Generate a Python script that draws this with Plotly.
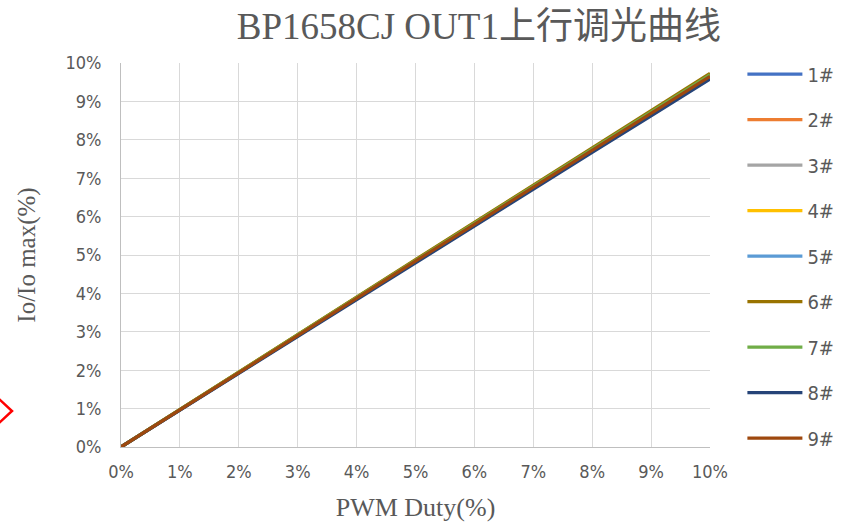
import plotly.graph_objects as go

duty = [0, 1, 2, 3, 4, 5, 6, 7, 8, 9, 10]
names = ["1#", "2#", "3#", "4#", "5#", "6#", "7#", "8#", "9#"]
s1 = [0, 0.97, 1.94, 2.90, 3.86, 4.82, 5.79, 6.75, 7.70, 8.66, 9.62]
s2 = [0, 0.97, 1.95, 2.91, 3.88, 4.84, 5.81, 6.77, 7.73, 8.69, 9.66]
s3 = [0, 0.98, 1.95, 2.92, 3.89, 4.85, 5.82, 6.79, 7.75, 8.71, 9.68]
s4 = [0, 0.98, 1.96, 2.93, 3.90, 4.87, 5.84, 6.80, 7.77, 8.73, 9.70]
s5 = [0, 0.97, 1.95, 2.92, 3.89, 4.85, 5.82, 6.78, 7.74, 8.70, 9.67]
s6 = [0, 0.98, 1.96, 2.94, 3.91, 4.88, 5.85, 6.82, 7.78, 8.75, 9.73]
s7 = [0, 0.98, 1.95, 2.92, 3.89, 4.86, 5.83, 6.79, 7.75, 8.72, 9.69]
s8 = [0, 0.96, 1.93, 2.89, 3.85, 4.80, 5.76, 6.72, 7.67, 8.62, 9.58]
s9 = [0, 0.97, 1.95, 2.91, 3.88, 4.84, 5.80, 6.76, 7.72, 8.68, 9.65]
series = [s1, s2, s3, s4, s5, s6, s7, s8, s9]
colors = ["#4472C4", "#ED7D31", "#A5A5A5", "#FFC000", "#5B9BD5",
          "#997300", "#70AD47", "#264478", "#9E480E"]
ticks = list(range(0, 11))
tick_text = [f"{t}%" for t in ticks]

fig = go.Figure()
for i, (n, s) in enumerate(zip(names, series)):
    fig.add_trace(go.Scatter(
        x=duty, y=s, mode="lines", name=n, legendgroup=n,
        line=dict(color=colors[i], width=3.2),
    ))

narrow = "DejaVu Sans Condensed, Liberation Sans Narrow, Arial Narrow, sans-serif"
tick_font = dict(family=narrow, size=18, color="#595959")
serif = "Liberation Serif, Times New Roman, Noto Sans CJK SC, serif"

fig.update_layout(
    width=843, height=522,
    margin=dict(l=121, r=133, t=63, b=75, autoexpand=False),
    paper_bgcolor="white", plot_bgcolor="white",
    title=dict(text="BP1658CJ OUT1上行调光曲线", x=0.568, xanchor="center",
               y=0.95, yanchor="middle",
               font=dict(family=serif, size=37, color="#595959")),
    showlegend=True,
    legend=dict(x=1.055, xanchor="left", y=1.022, yanchor="top",
                font=dict(family=narrow, size=20, color="#595959"),
                itemwidth=55, tracegroupgap=16.5, maxheight=500,
                bgcolor="rgba(0,0,0,0)"),
    xaxis=dict(range=[0, 10], tickvals=ticks, ticktext=tick_text,
               showgrid=True, gridcolor="#D9D9D9", gridwidth=1,
               showline=True, linecolor="#BFBFBF", linewidth=1,
               zeroline=False, tickfont=tick_font, ticks="",
               ticklabelstandoff=8,
               title=dict(text="PWM Duty(%)", font=dict(family=serif, size=26, color="#595959"), standoff=21)),
    yaxis=dict(range=[0, 10], tickvals=ticks, ticktext=tick_text,
               showgrid=True, gridcolor="#D9D9D9", gridwidth=1,
               showline=True, linecolor="#BFBFBF", linewidth=1,
               zeroline=False, tickfont=tick_font, ticks="",
               ticklabelstandoff=15,
               title=dict(text="Io/Io max(%)", font=dict(family=serif, size=25, color="#595959"), standoff=22)),
)

# partial red diamond marker visible at the left edge of the reference
def px(xp):
    return (xp - 121) / 589.0
def py(yp):
    return (447 - yp) / 384.0
fig.add_shape(type="path", xref="paper", yref="paper",
              path=f"M {px(-2)} {py(398)} L {px(12)} {py(411)} L {px(-2)} {py(424)}",
              line=dict(color="#FF0000", width=2.5))

fig.write_html("out.html", config={"displayModeBar": False},
               post_script="document.body.style.margin='0';")
